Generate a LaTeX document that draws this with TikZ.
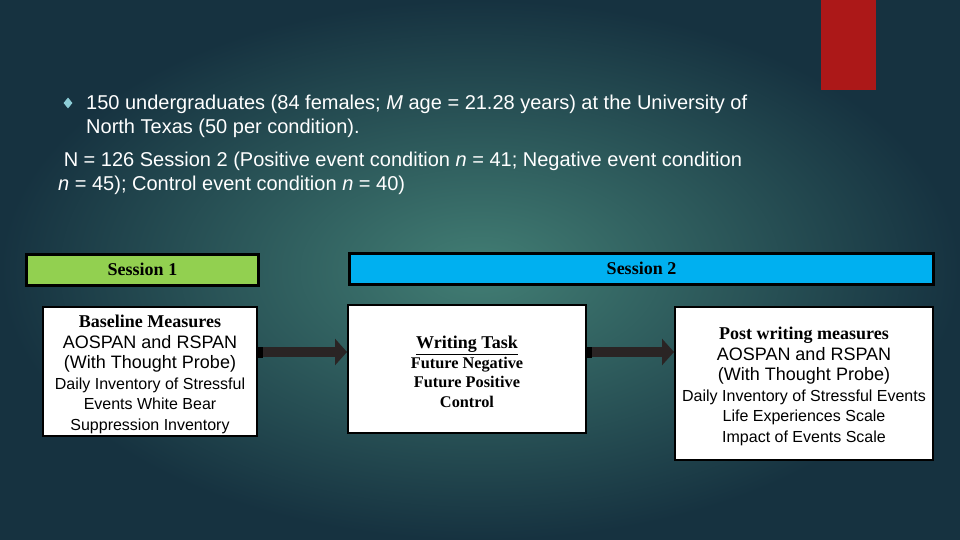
\documentclass[tikz,border=0pt]{standalone}
\usepackage{fontspec}
\setmainfont{Liberation Serif}
\setsansfont{Liberation Sans}
\usetikzlibrary{arrows.meta,shapes.geometric}
\definecolor{bgcentre}{RGB}{66,126,116}
\definecolor{bgedge}{RGB}{22,50,64}
\definecolor{redbar}{RGB}{172,24,24}
\definecolor{sessone}{RGB}{146,208,80}
\definecolor{sesstwo}{RGB}{0,176,240}
\definecolor{bulletc}{RGB}{140,205,215}
\definecolor{arrowgrey}{RGB}{42,36,36}
\tikzset{
  headbox/.style={draw=black, line width=3pt, minimum height=31pt, inner sep=0pt,
    font=\rmfamily\bfseries\fontsize{18}{20}\selectfont},
  measbox/.style={draw=black, line width=2pt, fill=white, align=center, inner sep=0pt,
    font=\sffamily\fontsize{18}{20.6}\selectfont},
  flowarrow/.style={line width=10pt, draw=arrowgrey,
    {Square[length=5pt,width=11pt,color=black]}-{Triangle[length=12pt,width=26pt]}},
  slidetext/.style={text=white, font=\sffamily\fontsize{20}{24}\selectfont,
    align=left, anchor=north west, inner sep=0pt},
}
\newcommand{\serifbold}[1]{{\rmfamily\bfseries\rule{0pt}{18.5pt}#1}}
\newcommand{\smallsans}[1]{{\fontsize{16}{19.5}\selectfont #1}}
\begin{document}
\begin{tikzpicture}[x=1pt,y=-1pt]
\useasboundingbox (0,0) rectangle (960,540);
\shade[inner color=bgcentre, outer color=bgedge] (0,0) rectangle (960,540);
\fill[redbar] (821,0) rectangle (876,90);

% participants
\node[diamond, fill=bulletc, inner sep=0pt, minimum width=9pt, minimum height=11pt] (dot) at (68,103) {};
\node[slidetext] (sample) at (86,95) {150 undergraduates (84 females; \textit{M} age = 21.28 years) at the University of\\North Texas (50 per condition).};
\node[slidetext] (count) at (58,152) {\ N = 126 Session 2 (Positive event condition \textit{n} = 41; Negative event condition\\\textit{n} = 45); Control event condition \textit{n} = 40)};

% sessions
\node[headbox, fill=sessone, minimum width=232pt] (sone) at (142.5,269.5) {Session 1};
\node[headbox, fill=sesstwo, minimum width=584pt] (stwo) at (641.5,268.5) {Session 2};

% measures
\node[measbox, minimum width=214pt, minimum height=129pt] (base) at (150,371.5)
  {\serifbold{Baseline Measures}\\AOSPAN and RSPAN\\(With Thought Probe)\\
   \smallsans{Daily Inventory of Stressful}\\\smallsans{Events White Bear}\\\smallsans{Suppression Inventory}};
\node[measbox, minimum width=238pt, minimum height=128pt, font=\rmfamily\bfseries\fontsize{16.3}{19.5}\selectfont] (write) at (467,369)
  {{\fontsize{18}{20}\selectfont\rule{0pt}{18.5pt}\underline{Writing Task}}\\Future Negative\\Future Positive\\Control};
\node[measbox, minimum width=258pt, minimum height=153pt] (post) at (804,383.5)
  {\serifbold{Post writing measures}\\AOSPAN and RSPAN\\(With Thought Probe)\\
   \smallsans{Daily Inventory of Stressful Events}\\\smallsans{Life Experiences Scale}\\\smallsans{Impact of Events Scale}};

\draw[flowarrow] ([yshift=19.5pt]base.east) -- ([yshift=19.5pt]base.east -| write.west);
\draw[flowarrow] ([yshift=17pt]write.east) -- ([yshift=17pt]write.east -| post.west);
\end{tikzpicture}
\end{document}
